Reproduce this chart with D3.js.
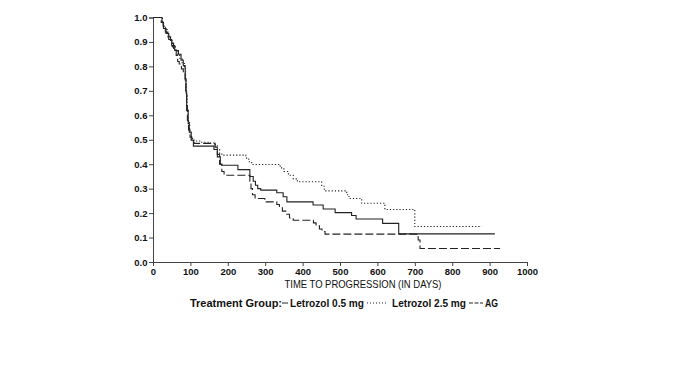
<!DOCTYPE html>
<html>
<head>
<meta charset="utf-8">
<script src="https://cdn.jsdelivr.net/npm/d3@7"></script>
<style>
  body { margin: 0; background: #fff; }
  svg { display: block; }
  text { font-family: "Liberation Sans", Arial, sans-serif; fill: #111; }
</style>
</head>
<body>
<svg id="chart" width="680" height="384"></svg>
<script>
// ---- data ----
const seriesNames = ["Letrozol 0.5 mg", "Letrozol 2.5 mg", "AG"];

const letrozol05 = [
  [0,1.0],[19,1.0],[24,0.98],[28,0.955],[35,0.935],[42,0.91],[50,0.885],[58,0.865],
  [68,0.85],[75,0.825],[81,0.803],[86,0.75],[88,0.695],[90,0.62],[94,0.566],[97,0.532],
  [102,0.498],[108,0.474],[157,0.474],[163,0.46],[172,0.43],[180,0.40],[184,0.396],
  [227,0.378],[259,0.35],[268,0.33],[274,0.314],[280,0.30],[288,0.294],[331,0.283],
  [348,0.267],[358,0.246],[428,0.233],[455,0.217],[487,0.202],[531,0.19],[543,0.176],
  [614,0.158],[657,0.115],[914,0.115]
];

const letrozol25 = [
  [0,1.0],[20,1.0],[25,0.975],[30,0.955],[38,0.93],[45,0.905],[52,0.88],[60,0.86],
  [66,0.845],[72,0.83],[78,0.815],[84,0.79],[87,0.74],[89,0.68],[91,0.62],[94,0.57],
  [98,0.53],[103,0.505],[110,0.495],[130,0.49],[150,0.487],[166,0.48],[172,0.46],
  [178,0.445],[184,0.437],[248,0.425],[256,0.41],[264,0.399],[340,0.385],[350,0.37],
  [362,0.355],[375,0.34],[386,0.328],[451,0.31],[458,0.291],[518,0.275],[524,0.26],
  [558,0.24],[620,0.215],[700,0.145],[879,0.145]
];

const ag = [
  [0,1.0],[18,1.0],[22,0.98],[27,0.96],[33,0.94],[40,0.92],[47,0.895],[55,0.87],
  [62,0.845],[66,0.82],[70,0.81],[76,0.79],[81,0.775],[86,0.745],[88,0.70],[90,0.64],
  [92,0.58],[95,0.54],[99,0.51],[104,0.49],[110,0.485],[160,0.485],[166,0.47],
  [172,0.44],[178,0.40],[184,0.37],[190,0.355],[259,0.33],[262,0.30],[266,0.275],
  [273,0.26],[299,0.246],[331,0.235],[338,0.222],[346,0.208],[355,0.195],[365,0.18],
  [375,0.171],[429,0.16],[436,0.148],[445,0.135],[452,0.125],[460,0.114],[709,0.09],
  [714,0.055],[928,0.055]
];

const xMajorTicks = [0,100,200,300,400,500,600,700,800,900,1000];
const yMajorTicks = [0,0.1,0.2,0.3,0.4,0.5,0.6,0.7,0.8,0.9,1.0];
const xTitle = "TIME TO PROGRESSION (IN DAYS)";
const legendTitle = "Treatment Group:";

// ---- drawing ----
const svg = d3.select("#chart");
const x = d3.scaleLinear().domain([0, 1000]).range([153, 527]);
const y = d3.scaleLinear().domain([0, 1]).range([262, 17.5]);

const axisColor = "#444";

// minor ticks
const xMinor = d3.range(0, 1001, 20).filter(v => v % 100 !== 0);
const yMinor = d3.range(0, 51, 1).map(v => v / 50).filter((v, i) => i % 5 !== 0);

const gx = svg.append("g").attr("transform", `translate(0,${y(0)})`);
gx.call(d3.axisBottom(x).tickValues(xMinor).tickSize(2.5).tickFormat(""));
gx.call(d3.axisBottom(x).tickValues(xMajorTicks).tickSize(4).tickPadding(2).tickFormat(d3.format("d")));
gx.selectAll("text").attr("font-size", 9.5).attr("font-weight", "bold")
  .attr("font-family", "Liberation Sans, Arial, sans-serif").attr("fill", "#111");

const gy = svg.append("g").attr("transform", `translate(${x(0)},0)`);
gy.call(d3.axisLeft(y).tickValues(yMinor).tickSize(2.5).tickFormat(""));
gy.call(d3.axisLeft(y).tickValues(yMajorTicks).tickSize(4).tickPadding(1.5).tickFormat(d3.format(".1f")));
gy.selectAll("text").attr("font-size", 9.5).attr("font-weight", "bold")
  .attr("font-family", "Liberation Sans, Arial, sans-serif").attr("fill", "#111");

svg.selectAll(".domain").attr("stroke", axisColor);
svg.selectAll(".tick line").attr("stroke", axisColor);

// curves
const line = d3.line().x(d => x(d[0])).y(d => y(d[1])).curve(d3.curveStepAfter);
const styles = [
  { data: letrozol05, dash: null, color: "#222", w: 1.1 },
  { data: letrozol25, dash: "1.2,2", color: "#222", w: 1.1 },
  { data: ag, dash: "8,3", color: "#222", w: 1.1 }
];
styles.forEach(s => {
  svg.append("path").datum(s.data)
    .attr("d", line)
    .attr("fill", "none")
    .attr("stroke", s.color)
    .attr("stroke-width", s.w)
    .attr("stroke-dasharray", s.dash);
});

// x title
svg.append("text")
  .attr("x", 363).attr("y", 287.5)
  .attr("text-anchor", "middle")
  .attr("font-size", 11)
  .attr("textLength", 157)
  .attr("lengthAdjust", "spacingAndGlyphs")
  .text(xTitle);

// legend
const lg = svg.append("g");
const ly = 306.5;
let cx = 190;
function addText(t, targetW) {
  const el = lg.append("text").attr("x", cx).attr("y", ly)
    .attr("font-size", 10).attr("font-weight", "bold").text(t);
  if (targetW) el.attr("textLength", targetW).attr("lengthAdjust", "spacingAndGlyphs");
  const w = targetW || el.node().getComputedTextLength();
  cx += w;
}
function addSample(dash, w) {
  lg.append("line").attr("x1", cx).attr("x2", cx + w)
    .attr("y1", ly - 3.5).attr("y2", ly - 3.5)
    .attr("stroke", "#222").attr("stroke-width", 1)
    .attr("stroke-dasharray", dash);
  cx += w;
}
addText(legendTitle, 92);
addSample(null, 6);
cx += 2;
addText(seriesNames[0], 74);
cx += 3;
addSample("1,2", 21);
cx += 4;
addText(seriesNames[1], 74);
cx += 3;
addSample("4,1.5", 14);
cx += 2;
addText(seriesNames[2], 13);
</script>
</body>
</html>
